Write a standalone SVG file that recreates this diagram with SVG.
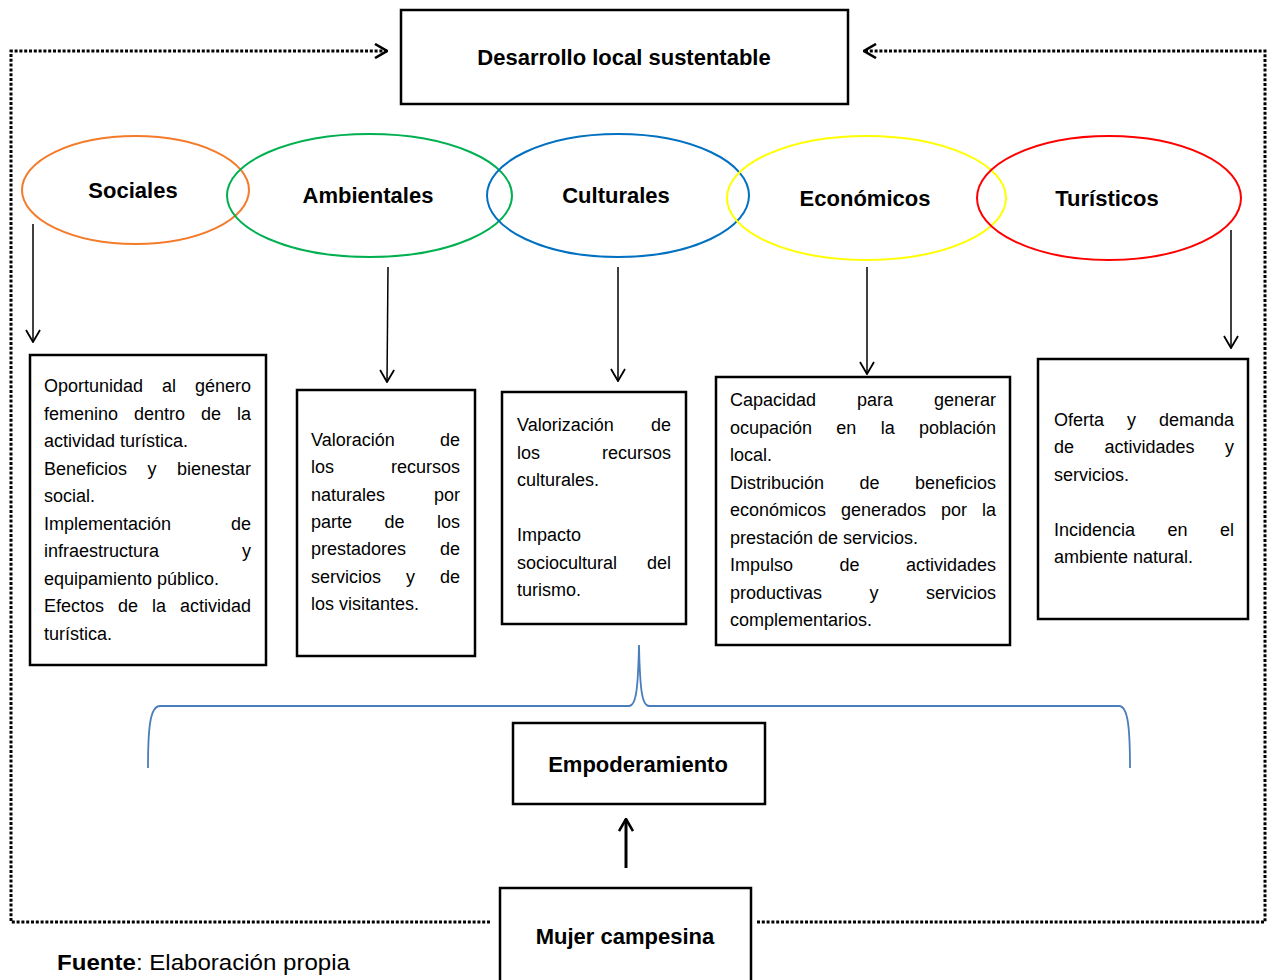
<svg xmlns="http://www.w3.org/2000/svg" width="1272" height="980" viewBox="0 0 1272 980">
<style>
  .box { fill: #fff; stroke: #000; stroke-width: 2.5; }
  .ell { fill: none; stroke-width: 2; }
  .lbl { font-family: "Liberation Sans", Arial, sans-serif; font-size: 22px; font-weight: bold; fill: #000; text-anchor: middle; }
  .t { font-family: "Liberation Sans", Arial, sans-serif; font-size: 18px; fill: #000; }
  .e { text-anchor: end; }
  .dot { fill: none; stroke: #000; stroke-width: 3; stroke-dasharray: 3 1.8; }
  .arr { fill: none; stroke: #000; stroke-width: 1.5; }
  .brace { fill: none; stroke: #4A7EBB; stroke-width: 1.8; }
  .src { font-family: "Liberation Sans", Arial, sans-serif; font-size: 22px; fill: #000; }
</style>
<defs>
  <marker id="chev" viewBox="0 0 14 16" refX="13" refY="8" markerWidth="14" markerHeight="16" orient="auto" markerUnits="userSpaceOnUse">
    <path d="M1,1 L13,8 L1,15" fill="none" stroke="#000" stroke-width="1.8" stroke-dasharray="none"/>
  </marker>
  <marker id="chevB" viewBox="0 0 14 16" refX="13" refY="8" markerWidth="14" markerHeight="16" orient="auto" markerUnits="userSpaceOnUse">
    <path d="M1,1 L13,8 L1,15" fill="none" stroke="#000" stroke-width="2.6" stroke-dasharray="none"/>
  </marker>
</defs>

<g id="connectors">
  <path class="dot" d="M490,922 L11,922 L11,51 L387,51" marker-end="url(#chevB)"/>
  <path class="dot" d="M757,922 L1265,922 L1265,51 L864,51" marker-end="url(#chevB)"/>
  <line class="arr" x1="33" y1="224" x2="33" y2="342" marker-end="url(#chev)"/>
  <line class="arr" x1="388" y1="267" x2="387" y2="382" marker-end="url(#chev)"/>
  <line class="arr" x1="618" y1="267" x2="618" y2="381" marker-end="url(#chev)"/>
  <line class="arr" x1="867" y1="267" x2="867" y2="374" marker-end="url(#chev)"/>
  <line class="arr" x1="1231" y1="230" x2="1231" y2="348" marker-end="url(#chev)"/>
  <line x1="626" y1="868" x2="626" y2="819" stroke="#000" stroke-width="3" marker-end="url(#chevB)"/>
  <path class="brace" d="M148,768 C148,728 150,706 160,706 L629,706 C636,706 638,690 639,645 C640,690 642,706 649,706 L1119,706 C1128,706 1130,728 1130,768"/>
</g>

<g id="desarrollo">
  <rect class="box" x="401" y="10" width="447" height="94"/>
  <text class="lbl" x="624" y="65">Desarrollo local sustentable</text>
</g>

<g id="sociales">
  <ellipse class="ell" stroke="#F47B2A" cx="135.5" cy="190" rx="113.5" ry="54"/>
  <text class="lbl" x="133" y="198">Sociales</text>
</g>
<g id="ambientales">
  <ellipse class="ell" stroke="#00B050" cx="369.5" cy="195.5" rx="142.5" ry="61.5"/>
  <text class="lbl" x="368" y="203">Ambientales</text>
</g>
<g id="culturales">
  <ellipse class="ell" stroke="#0070C0" cx="618" cy="195.5" rx="131" ry="61.5"/>
  <text class="lbl" x="616" y="203">Culturales</text>
</g>
<g id="economicos">
  <ellipse class="ell" stroke="#FFFF00" cx="866.5" cy="198" rx="139.5" ry="62"/>
  <text class="lbl" x="865" y="206">Económicos</text>
</g>
<g id="turisticos">
  <ellipse class="ell" stroke="#FF0000" cx="1109" cy="198" rx="132" ry="62"/>
  <text class="lbl" x="1107" y="206">Turísticos</text>
</g>

<g id="box-sociales">
  <rect class="box" x="30" y="355" width="236" height="310"/>
  <text class="t" y="392"><tspan x="44">Oportunidad</tspan><tspan x="162">al</tspan><tspan x="251" class="e" text-anchor="end">género</tspan></text>
  <text class="t" y="419.5"><tspan x="44">femenino</tspan><tspan x="134">dentro</tspan><tspan x="201">de</tspan><tspan x="251" class="e" text-anchor="end">la</tspan></text>
  <text class="t" x="44" y="447">actividad turística.</text>
  <text class="t" y="474.5"><tspan x="44">Beneficios</tspan><tspan x="147.5">y</tspan><tspan x="251" class="e" text-anchor="end">bienestar</tspan></text>
  <text class="t" x="44" y="502">social.</text>
  <text class="t" y="529.5"><tspan x="44">Implementación</tspan><tspan x="251" class="e" text-anchor="end">de</tspan></text>
  <text class="t" y="557"><tspan x="44">infraestructura</tspan><tspan x="251" class="e" text-anchor="end">y</tspan></text>
  <text class="t" x="44" y="584.5">equipamiento público.</text>
  <text class="t" y="612"><tspan x="44">Efectos</tspan><tspan x="118">de</tspan><tspan x="152">la</tspan><tspan x="251" class="e" text-anchor="end">actividad</tspan></text>
  <text class="t" x="44" y="639.5">turística.</text>
</g>

<g id="box-ambientales">
  <rect class="box" x="297" y="390" width="178" height="266"/>
  <text class="t" y="446"><tspan x="311">Valoración</tspan><tspan x="460" class="e" text-anchor="end">de</tspan></text>
  <text class="t" y="473.3"><tspan x="311">los</tspan><tspan x="460" class="e" text-anchor="end">recursos</tspan></text>
  <text class="t" y="500.6"><tspan x="311">naturales</tspan><tspan x="460" class="e" text-anchor="end">por</tspan></text>
  <text class="t" y="527.9"><tspan x="311">parte</tspan><tspan x="384.5">de</tspan><tspan x="460" class="e" text-anchor="end">los</tspan></text>
  <text class="t" y="555.2"><tspan x="311">prestadores</tspan><tspan x="460" class="e" text-anchor="end">de</tspan></text>
  <text class="t" y="582.5"><tspan x="311">servicios</tspan><tspan x="406">y</tspan><tspan x="460" class="e" text-anchor="end">de</tspan></text>
  <text class="t" x="311" y="609.8">los visitantes.</text>
</g>

<g id="box-culturales">
  <rect class="box" x="502" y="392" width="184" height="232"/>
  <text class="t" y="431"><tspan x="517">Valorización</tspan><tspan x="671" class="e" text-anchor="end">de</tspan></text>
  <text class="t" y="458.5"><tspan x="517">los</tspan><tspan x="671" class="e" text-anchor="end">recursos</tspan></text>
  <text class="t" x="517" y="486">culturales.</text>
  <text class="t" x="517" y="541">Impacto</text>
  <text class="t" y="568.5"><tspan x="517">sociocultural</tspan><tspan x="671" class="e" text-anchor="end">del</tspan></text>
  <text class="t" x="517" y="596">turismo.</text>
</g>

<g id="box-economicos">
  <rect class="box" x="716" y="377" width="294" height="268"/>
  <text class="t" y="406"><tspan x="730">Capacidad</tspan><tspan x="857">para</tspan><tspan x="996" class="e" text-anchor="end">generar</tspan></text>
  <text class="t" y="433.5"><tspan x="730">ocupación</tspan><tspan x="836.3">en</tspan><tspan x="880.7">la</tspan><tspan x="996" class="e" text-anchor="end">población</tspan></text>
  <text class="t" x="730" y="461">local.</text>
  <text class="t" y="488.5"><tspan x="730">Distribución</tspan><tspan x="859.5">de</tspan><tspan x="996" class="e" text-anchor="end">beneficios</tspan></text>
  <text class="t" y="516"><tspan x="730">económicos</tspan><tspan x="841">generados</tspan><tspan x="941">por</tspan><tspan x="996" class="e" text-anchor="end">la</tspan></text>
  <text class="t" x="730" y="543.5">prestación de servicios.</text>
  <text class="t" y="571"><tspan x="730">Impulso</tspan><tspan x="839.5">de</tspan><tspan x="996" class="e" text-anchor="end">actividades</tspan></text>
  <text class="t" y="598.5"><tspan x="730">productivas</tspan><tspan x="869.5">y</tspan><tspan x="996" class="e" text-anchor="end">servicios</tspan></text>
  <text class="t" x="730" y="626">complementarios.</text>
</g>

<g id="box-turisticos">
  <rect class="box" x="1038" y="359" width="210" height="260"/>
  <text class="t" y="426"><tspan x="1054">Oferta</tspan><tspan x="1127">y</tspan><tspan x="1234" class="e" text-anchor="end">demanda</tspan></text>
  <text class="t" y="453.4"><tspan x="1054">de</tspan><tspan x="1104.5">actividades</tspan><tspan x="1234" class="e" text-anchor="end">y</tspan></text>
  <text class="t" x="1054" y="480.8">servicios.</text>
  <text class="t" y="535.6"><tspan x="1054">Incidencia</tspan><tspan x="1167.5">en</tspan><tspan x="1234" class="e" text-anchor="end">el</tspan></text>
  <text class="t" x="1054" y="563">ambiente natural.</text>
</g>

<g id="empoderamiento">
  <rect class="box" x="513" y="723" width="252" height="81"/>
  <text class="lbl" x="638" y="772">Empoderamiento</text>
</g>

<g id="mujer">
  <rect class="box" x="500" y="888" width="251" height="100"/>
  <text class="lbl" x="625" y="944">Mujer campesina</text>
</g>

<text class="src" x="57" y="970" textLength="293" lengthAdjust="spacingAndGlyphs"><tspan font-weight="bold">Fuente</tspan>: Elaboración propia</text>
</svg>
